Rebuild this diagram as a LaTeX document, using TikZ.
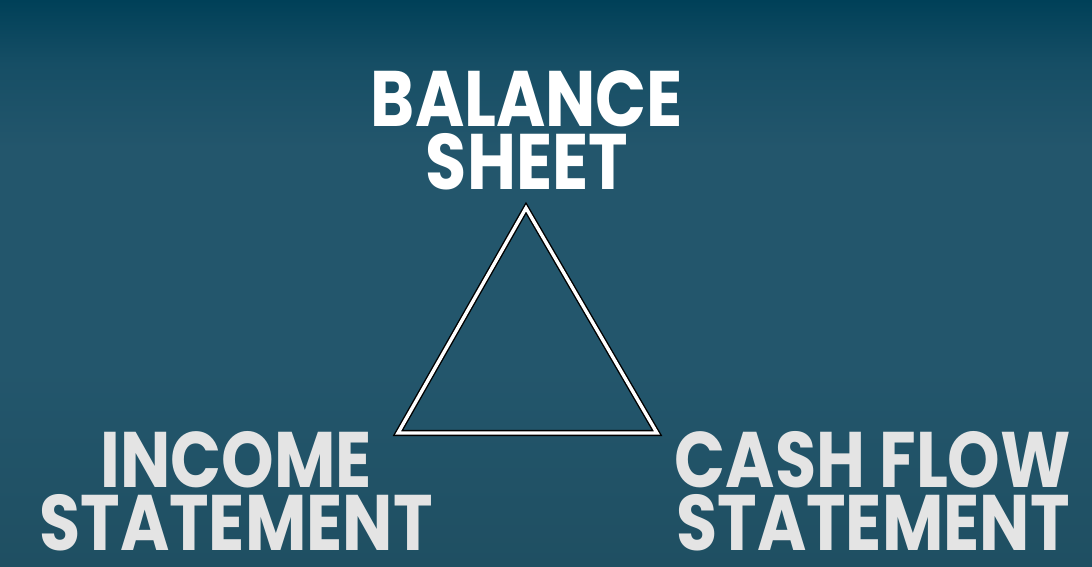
\documentclass[tikz,border=0pt]{standalone}
\usepackage{xcolor}
\usepackage{fontspec}
\usepackage{tikz}
\usetikzlibrary{positioning}

\newfontfamily\headfont{Poppins}[FakeStretch=0.85]
\definecolor{bgtop}{RGB}{0,64,88}
\definecolor{bgupper}{RGB}{22,78,101}
\definecolor{bgmid}{RGB}{35,86,108}
\definecolor{bgbot}{RGB}{31,79,98}
\definecolor{labelgray}{RGB}{228,228,228}

% shading box is 100bp, the path covers 25bp--75bp
\pgfdeclareverticalshading{backdrop}{100bp}{color(0bp)=(bgbot); color(25bp)=(bgbot);
    color(42.6bp)=(bgmid); color(62bp)=(bgmid); color(69.4bp)=(bgupper);
    color(75bp)=(bgtop); color(100bp)=(bgtop)}

\begin{document}
\begin{tikzpicture}[
    title/.style={text=white, font=\headfont\bfseries\fontsize{56}{44.8}\selectfont,
        align=center, inner sep=0pt, anchor=south},
    subtitle/.style={title, text=labelgray},
    edge/.style={draw=black, line width=1pt, double=white, double distance=2.4pt, line join=miter}
]
% background
\shade[shading=backdrop] (0,0) rectangle (27.3,14.175);
\useasboundingbox (0,0) rectangle (27.3,14.175);

\node[title] (balance) at (13.175,9.425) {BALANCE\\SHEET};
\node[subtitle] (income) at (5.9,0.4) {INCOME\\STATEMENT};
\node[subtitle] (cashflow) at (21.825,0.4) {CASH FLOW\\STATEMENT};

\coordinate (apex) at (13.15,8.975);
\coordinate (left) at (9.95,3.35);
\coordinate (right) at (16.425,3.35);
\draw[edge] (apex) -- (left) -- (right) -- cycle;

\end{tikzpicture}
\end{document}
